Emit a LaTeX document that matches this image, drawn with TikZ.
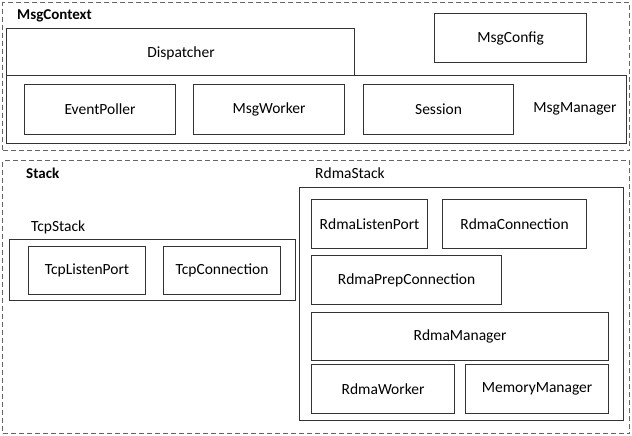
\documentclass[tikz,border=0pt]{standalone}
\usepackage{fontspec}
\setmainfont{Carlito}
\begin{document}
\begin{tikzpicture}[x=1pt,y=-1pt,
  dashbox/.style={draw=black!60, line width=1.1pt, dash pattern=on 5pt off 3pt},
  box/.style={draw=black!80, line width=1.1pt, inner sep=0pt, font=\fontsize{15.5}{17}\selectfont},
  lbl/.style={inner sep=0pt, font=\fontsize{15.5}{17}\selectfont},
  blbl/.style={inner sep=0pt, font=\fontsize{15}{17}\selectfont\bfseries}]
\useasboundingbox (0,0) rectangle (632,436);
% MsgContext
\node[dashbox, anchor=north west, minimum width=627pt, minimum height=148pt, inner sep=0pt] (ctx) at (2,2) {};
\node[blbl, anchor=west] (ctxl) at (17,16) {MsgContext};
\node[box, anchor=north west, minimum width=348pt, minimum height=47pt] (disp) at (6,28) {};
\node[lbl] (displ) at (181,53) {Dispatcher};
\node[box, anchor=north west, minimum width=620pt, minimum height=68pt] (mgr) at (6,75) {};
\node[lbl] (mgrl) at (575,109) {MsgManager};
\node[box, anchor=north west, minimum width=151pt, minimum height=50pt] (ep) at (24,84) {EventPoller};
\node[box, anchor=north west, minimum width=151pt, minimum height=50pt] (mw) at (193,84) {MsgWorker};
\node[box, anchor=north west, minimum width=150pt, minimum height=50pt] (sess) at (363,84) {Session};
\node[box, anchor=north west, minimum width=152pt, minimum height=49pt] (cfg) at (434,13) {MsgConfig};
% Stack
\node[dashbox, anchor=north west, minimum width=627pt, minimum height=273pt, inner sep=0pt] (stk) at (2,160) {};
\node[blbl, anchor=west] (stkl) at (26,173) {Stack};
\node[lbl, anchor=west] (tcpl) at (31,227) {TcpStack};
\node[box, anchor=north west, minimum width=286pt, minimum height=61pt] (tcp) at (9,239) {};
\node[box, anchor=north west, minimum width=117pt, minimum height=48pt] (tlp) at (28,246) {TcpListenPort};
\node[box, anchor=north west, minimum width=117pt, minimum height=48pt] (tcon) at (163,246) {TcpConnection};
\node[lbl, anchor=west] (rdl) at (315,173) {RdmaStack};
\node[box, anchor=north west, minimum width=324pt, minimum height=233pt] (rdma) at (299,187) {};
\node[box, anchor=north west, minimum width=116pt, minimum height=49pt] (rlp) at (311,199) {RdmaListenPort};
\node[box, anchor=north west, minimum width=144pt, minimum height=49pt] (rcon) at (442,199) {RdmaConnection};
\node[box, anchor=north west, minimum width=190pt, minimum height=49pt] (rpc) at (311,255) {RdmaPrepConnection};
\node[box, anchor=north west, minimum width=297pt, minimum height=48pt] (rmgr) at (311,312) {RdmaManager};
\node[box, anchor=north west, minimum width=143pt, minimum height=49pt] (rw) at (311,364) {RdmaWorker};
\node[box, anchor=north west, minimum width=143pt, minimum height=49pt] (mm) at (465,364) {MemoryManager};
\end{tikzpicture}
\end{document}
